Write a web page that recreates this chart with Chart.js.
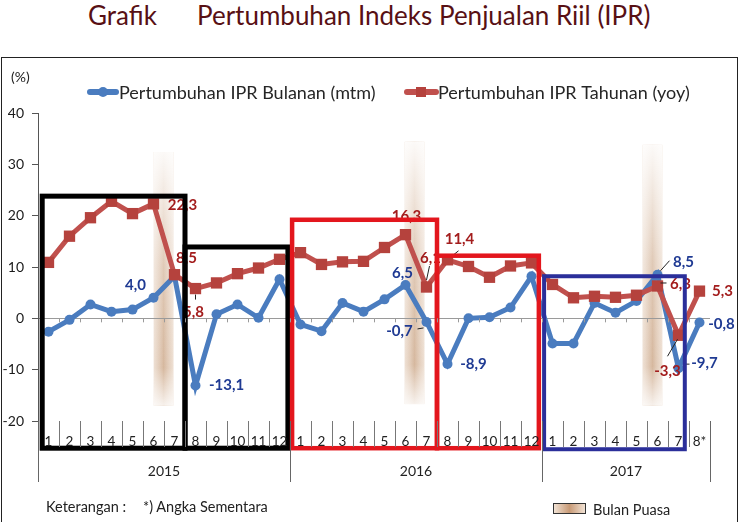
<!DOCTYPE html>
<html>
<head>
<meta charset="utf-8">
<script src="https://cdn.jsdelivr.net/npm/chart.js@4.4.1/dist/chart.umd.min.js"></script>
<style>
  body { margin: 0; background: #fff; font-family: Lato, sans-serif; }
  #wrap { position: relative; width: 740px; height: 522px; overflow: hidden; }
  .title { position: absolute; top: -1px; font-size: 26px; color: #581014; white-space: nowrap; }
  #frame { position: absolute; left: 1px; top: 57px; width: 737px; height: 480px; border: 1.5px solid #222; box-sizing: border-box; }
  canvas { position: absolute; left: 0; top: 0; }
  .note { position: absolute; font-size: 14.5px; color: #222; white-space: nowrap; }
  #swatch { position: absolute; left: 553px; top: 503px; width: 33px; height: 11px; box-sizing: border-box;
            border: 1.5px solid #333; background: linear-gradient(90deg, #f1e2d4, #c89a76 50%, #f1e2d4); }
</style>
</head>
<body>
<div id="wrap">
  <div class="title" style="left:88px">Grafik</div>
  <div class="title" style="left:197px">Pertumbuhan Indeks Penjualan Riil (IPR)</div>
  <div id="frame"></div>
  <canvas id="ipr" width="740" height="522"></canvas>
  <div class="note" style="left:46px; top:498px">Keterangan :</div>
  <div class="note" style="left:143px; top:498px">*) Angka Sementara</div>
  <div id="swatch"></div>
  <div class="note" style="left:593px; top:501px">Bulan Puasa</div>
</div>
<script>
// months 2015-1 .. 2017-8*
const months = ['1','2','3','4','5','6','7','8','9','10','11','12',
                '1','2','3','4','5','6','7','8','9','10','11','12',
                '1','2','3','4','5','6','7','8*'];
const years = ['2015', '2016', '2017'];
const yearLengths = [12, 12, 8];

// Pertumbuhan IPR Bulanan (mtm), %
const mtm = [-2.6, -0.3, 2.7, 1.3, 1.7, 4.0, 8.2, -13.1, 0.8, 2.7, 0.1, 7.6,
             -1.2, -2.5, 3.0, 1.3, 3.7, 6.5, -0.7, -8.9, 0.0, 0.2, 2.1, 8.2,
             -4.9, -4.9, 3.0, 1.1, 3.4, 8.5, -9.7, -0.8];
// Pertumbuhan IPR Tahunan (yoy), %
const yoy = [10.9, 16.0, 19.6, 22.8, 20.4, 22.3, 8.5, 5.8, 6.9, 8.7, 9.8, 11.5,
             12.8, 10.5, 11.0, 11.1, 13.8, 16.3, 6.1, 11.4, 10.1, 8.0, 10.2, 10.8,
             6.6, 4.0, 4.3, 4.1, 4.5, 6.3, -3.3, 5.3];

const yMin = -20, yMax = 40, yStep = 10;

// Bulan Puasa bands (category index of centre, value range)
const fasting = [
  { at: 5.48, top: 32.4, bottom: -17 },
  { at: 17.43, top: 34.4, bottom: -16.7 },
  { at: 28.76, top: 33.8, bottom: -17 }
];

const BLUE = '#4a7cbf', RED = '#c0504d';
const series = {
  mtm: { data: mtm, text: '#1f3a93' },
  yoy: { data: yoy, text: '#a31d1d' }
};

// value labels: offsets from the point, optional leader line
const callouts = [
  { s: 'yoy', i: 5, dx: 29, dy: 1 },
  { s: 'yoy', i: 6, dx: 12, dy: -17 },
  { s: 'yoy', i: 7, dx: -2, dy: 24, lead: [0, 6, 0, 11] },
  { s: 'mtm', i: 5, dx: -18, dy: -13 },
  { s: 'mtm', i: 7, dx: 31, dy: 0 },
  { s: 'yoy', i: 17, dx: 1, dy: -19 },
  { s: 'yoy', i: 18, dx: 4, dy: -29, lead: [3, -21, 0, -7] },
  { s: 'yoy', i: 19, dx: 12, dy: -21, lead: [11, -9, 6, -5] },
  { s: 'mtm', i: 17, dx: -3, dy: -12 },
  { s: 'mtm', i: 18, dx: -27, dy: 9, lead: [-9, 7, -3, 6] },
  { s: 'mtm', i: 19, dx: 26, dy: 0 },
  { s: 'mtm', i: 29, dx: 26, dy: -13, lead: [12, -14, 3, -4] },
  { s: 'yoy', i: 29, dx: 23, dy: -2, lead: [3, -3, 9, -3] },
  { s: 'yoy', i: 30, dx: -11, dy: 36, lead: [-11, 21, -1, 4] },
  { s: 'mtm', i: 30, dx: 26, dy: -5, lead: [6, -4, 11, -4] },
  { s: 'yoy', i: 31, dx: 23, dy: 0 },
  { s: 'mtm', i: 31, dx: 22, dy: 2 }
];

// highlight boxes, in category boundaries and axis values
const boxes = [
  { from: 0.2, to: 7, top: 23.8, bottom: -25.3, color: '#000', w: 5 },
  { from: 7, to: 11.9, top: 13.9, bottom: -25.3, color: '#000', w: 5 },
  { from: 12.1, to: 19, top: 19.2, bottom: -25.3, color: '#e3161d', w: 4.5 },
  { from: 19, to: 23.85, top: 12.2, bottom: -25.3, color: '#e3161d', w: 4.5 },
  { from: 24.1, to: 30.8, top: 8.2, bottom: -25.5, color: '#2b2f9a', w: 4 }
];

function fmt(v) { return v.toFixed(1).replace('.', ','); }

function bx(chart, b) {
  const x = chart.scales.x;
  const cw = x.getPixelForValue(1) - x.getPixelForValue(0);
  return x.getPixelForValue(0) + (b - 0.5) * cw;
}

const decor = {
  id: 'decor',
  beforeDraw(chart) {
    const ctx = chart.ctx, x = chart.scales.x, y = chart.scales.y;
    const cw = x.getPixelForValue(1) - x.getPixelForValue(0);
    fasting.forEach(f => {
      const cx = x.getPixelForValue(0) + f.at * cw;
      const w = cw * 0.95, t = y.getPixelForValue(f.top), b = y.getPixelForValue(f.bottom);
      const g = ctx.createLinearGradient(cx - w / 2, 0, cx + w / 2, 0);
      g.addColorStop(0, 'rgba(225,200,178,0.55)');
      g.addColorStop(0.5, 'rgba(200,160,126,0.75)');
      g.addColorStop(1, 'rgba(225,200,178,0.55)');
      ctx.fillStyle = g;
      ctx.fillRect(cx - w / 2, t, w, b - t);
      const v = ctx.createLinearGradient(0, t, 0, b);
      v.addColorStop(0, 'rgba(255,255,255,0.92)');
      v.addColorStop(0.45, 'rgba(255,255,255,0.25)');
      v.addColorStop(0.85, 'rgba(255,255,255,0)');
      v.addColorStop(1, 'rgba(255,255,255,0.8)');
      ctx.fillStyle = v;
      ctx.fillRect(cx - w / 2, t, w, b - t);
    });
  },
  afterDatasetsDraw(chart) {
    const ctx = chart.ctx, x = chart.scales.x, y = chart.scales.y;
    ctx.save();
    ctx.font = 'bold 15px Lato';
    ctx.textAlign = 'center';
    ctx.textBaseline = 'middle';
    callouts.forEach(c => {
      const sr = series[c.s];
      const px = x.getPixelForValue(c.i), py = y.getPixelForValue(sr.data[c.i]);
      if (c.lead) {
        ctx.strokeStyle = '#222';
        ctx.lineWidth = 1;
        ctx.beginPath();
        ctx.moveTo(px + c.lead[0], py + c.lead[1]);
        ctx.lineTo(px + c.lead[2], py + c.lead[3]);
        ctx.stroke();
      }
      ctx.fillStyle = sr.text;
      ctx.fillText(fmt(sr.data[c.i]), px + c.dx, py + c.dy);
    });
    boxes.forEach(b => {
      const l = bx(chart, b.from), r = bx(chart, b.to);
      const t = y.getPixelForValue(b.top), btm = y.getPixelForValue(b.bottom);
      ctx.strokeStyle = b.color;
      ctx.lineWidth = b.w;
      ctx.strokeRect(l, t, r - l, btm - t);
    });
    ctx.restore();
  },
  afterDraw(chart) {
    const ctx = chart.ctx, x = chart.scales.x, y = chart.scales.y;
    const area = chart.chartArea;
    const zero = y.getPixelForValue(0);
    ctx.save();
    // small ticks on the zero line
    ctx.strokeStyle = '#9a9a9a';
    ctx.lineWidth = 1;
    for (let b = 1; b < months.length; b++) {
      const px = Math.round(bx(chart, b)) + 0.5;
      ctx.beginPath(); ctx.moveTo(px, zero); ctx.lineTo(px, zero + 4); ctx.stroke();
    }
    // category axis at the bottom
    const base = area.bottom;
    ctx.strokeStyle = '#777';
    for (let b = 1; b < months.length; b++) {
      const px = Math.round(bx(chart, b)) + 0.5;
      ctx.beginPath(); ctx.moveTo(px, base); ctx.lineTo(px, base + 26); ctx.stroke();
    }
    ctx.strokeStyle = '#666';
    let acc = 0;
    const yearEdges = [0];
    yearLengths.forEach(n => { acc += n; yearEdges.push(acc); });
    yearEdges.forEach(b => {
      const px = Math.round(bx(chart, b)) + 0.5;
      ctx.beginPath(); ctx.moveTo(px, base); ctx.lineTo(px, base + 61); ctx.stroke();
    });
    ctx.fillStyle = '#222';
    ctx.font = '13.5px Lato';
    ctx.textAlign = 'center';
    ctx.textBaseline = 'middle';
    months.forEach((m, i) => ctx.fillText(m, x.getPixelForValue(i), base + 21));
    ctx.font = '14px Lato';
    years.forEach((yr, k) => {
      const c = (bx(chart, yearEdges[k]) + bx(chart, yearEdges[k + 1])) / 2;
      ctx.fillText(yr, c, base + 50);
    });
    // unit
    ctx.textAlign = 'left';
    ctx.fillText('(%)', 11, 77);
    // legend
    ctx.lineCap = 'round';
    ctx.lineWidth = 6;
    ctx.strokeStyle = BLUE;
    ctx.beginPath(); ctx.moveTo(90, 92); ctx.lineTo(116, 92); ctx.stroke();
    ctx.fillStyle = BLUE;
    ctx.beginPath(); ctx.arc(103, 92, 5, 0, Math.PI * 2); ctx.fill();
    ctx.strokeStyle = RED;
    ctx.beginPath(); ctx.moveTo(407, 92); ctx.lineTo(436, 92); ctx.stroke();
    ctx.fillStyle = '#b5423d';
    ctx.fillRect(416, 87, 10, 10);
    ctx.fillStyle = '#262626';
    ctx.font = '18px Lato';
    ctx.fillText('Pertumbuhan IPR Bulanan (mtm)', 119, 93);
    ctx.fillText('Pertumbuhan IPR Tahunan (yoy)', 438, 93);
    ctx.restore();
  }
};

new Chart(document.getElementById('ipr'), {
  type: 'line',
  data: {
    labels: months,
    datasets: [{
      label: 'Pertumbuhan IPR Bulanan (mtm)',
      data: mtm,
      borderColor: BLUE,
      backgroundColor: BLUE,
      borderWidth: 5,
      pointRadius: 5,
      pointStyle: 'circle',
      pointBorderWidth: 0,
      tension: 0,
      order: 1
    }, {
      label: 'Pertumbuhan IPR Tahunan (yoy)',
      data: yoy,
      borderColor: RED,
      backgroundColor: '#b5423d',
      borderWidth: 5,
      pointRadius: 8,
      pointStyle: 'rect',
      pointBorderWidth: 0,
      tension: 0,
      order: 0
    }]
  },
  options: {
    responsive: false,
    animation: false,
    devicePixelRatio: 1,
    layout: { padding: { top: 113, bottom: 101, left: 0, right: 30 } },
    plugins: { legend: { display: false }, tooltip: { enabled: false } },
    scales: {
      x: { type: 'category', display: false, offset: true },
      y: {
        min: yMin, max: yMax,
        afterFit(s) { s.width = 38; },
        ticks: { stepSize: yStep, color: '#1a1a1a', font: { family: 'Lato', size: 14 }, padding: 8 },
        grid: {
          color: c => (c.tick && c.tick.value === 0) ? '#9a9a9a' : 'rgba(0,0,0,0)',
          tickColor: '#555', tickLength: 6
        },
        border: { display: true, color: '#555', width: 1 }
      }
    }
  },
  plugins: [decor]
});
</script>
</body>
</html>
